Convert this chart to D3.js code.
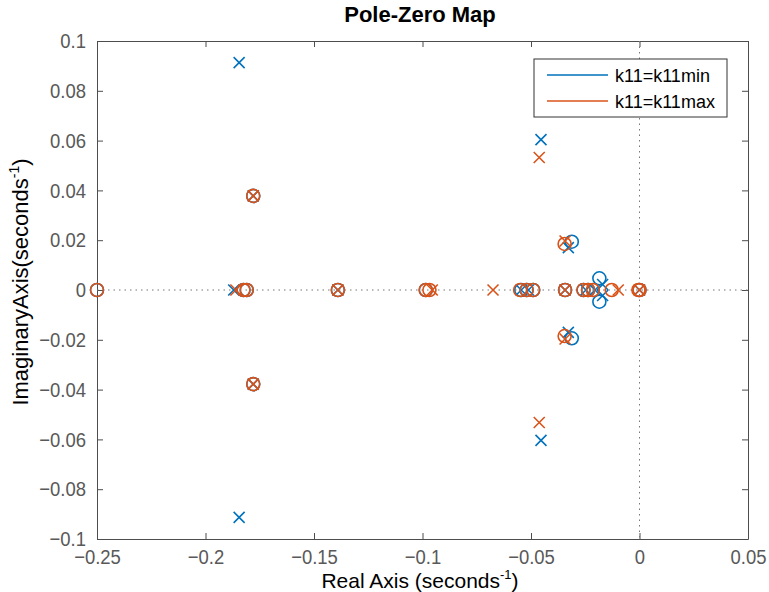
<!DOCTYPE html>
<html>
<head>
<meta charset="utf-8">
<script src="https://cdn.jsdelivr.net/npm/d3@7"></script>
<style>
  body { margin: 0; background: #fff; }
  text { font-family: "Liberation Sans", Arial, sans-serif; }
</style>
</head>
<body>
<div class="chart"></div>
<script>
var width = 769;
var height = 592;
var margin = {top: 41, right: 21, bottom: 53, left: 97};

// poles (x) and zeros (o), [real, imag]
var minPoles = [[-0.1845, 0.0913], [-0.1845, -0.0913], [-0.187, 0], [-0.178, 0.0378], [-0.178, -0.0378],
  [-0.139, 0], [-0.0545, 0], [-0.0512, 0], [-0.0454, 0.0604], [-0.0454, -0.0604],
  [-0.0328, 0.0170], [-0.0328, -0.0170], [-0.0343, 0], [-0.0247, 0], [-0.0205, 0],
  [-0.0170, 0.0022], [-0.0170, -0.0022], [0, 0]];
var minZeros = [[-0.25, 0], [-0.1825, 0], [-0.181, 0], [-0.178, 0.0378], [-0.178, -0.0378],
  [-0.139, 0], [-0.0985, 0], [-0.0545, 0], [-0.052, 0], [-0.049, 0],
  [-0.0312, 0.0194], [-0.0312, -0.0194], [-0.0343, 0], [-0.0258, 0], [-0.0237, 0],
  [-0.0185, 0.0047], [-0.0185, -0.0047], [0, 0]];
var maxPoles = [[-0.186, 0], [-0.178, 0.0378], [-0.178, -0.0378], [-0.139, 0], [-0.0955, 0],
  [-0.0675, 0], [-0.0462, 0.0532], [-0.0462, -0.0532], [-0.0343, 0.0197], [-0.0343, -0.0197],
  [-0.0343, 0], [-0.0098, 0], [0, 0]];
var maxZeros = [[-0.25, 0], [-0.1825, 0], [-0.181, 0], [-0.178, 0.0378], [-0.178, -0.0378],
  [-0.139, 0], [-0.0985, 0], [-0.0968, 0], [-0.055, 0], [-0.052, 0], [-0.049, 0],
  [-0.0345, 0.0185], [-0.0345, -0.0185], [-0.0343, 0], [-0.0258, 0], [-0.0237, 0], [-0.0215, 0],
  [-0.0128, 0], [0, 0], [-0.0005, 0]];

var xTicks = [-0.25, -0.2, -0.15, -0.1, -0.05, 0, 0.05];
var yTicks = [-0.1, -0.08, -0.06, -0.04, -0.02, 0, 0.02, 0.04, 0.06, 0.08, 0.1];
var series = [
  {name: "k11=k11min", color: "#0072BD", poles: minPoles, zeros: minZeros},
  {name: "k11=k11max", color: "#D95319", poles: maxPoles, zeros: maxZeros}
];

var svg = d3.select(".chart").append("svg")
    .attr("width", width)
    .attr("height", height);

var x = d3.scaleLinear().domain([-0.25, 0.05]).range([margin.left, width - margin.right]);
var y = d3.scaleLinear().domain([-0.1, 0.1]).range([height - margin.bottom, margin.top]);

var axisColor = "#4d4d4d";
var tickFont = 21, squeeze = 0.88;

// axes with inward ticks on all sides
function styleAxis(g) {
  g.select(".domain").attr("stroke", axisColor);
  g.selectAll(".tick line").attr("stroke", axisColor);
  g.selectAll(".tick text").attr("fill", "#595959").attr("font-size", tickFont)
    .attr("font-family", "Liberation Sans, Arial, sans-serif");
}
var fmt = function(d) { return d === 0 ? "0" : d3.format("")(+d.toFixed(2)); };

svg.append("g")
    .attr("transform", "translate(0," + (height - margin.bottom) + ")")
    .call(d3.axisBottom(x).tickValues(xTicks).tickFormat(fmt).tickSizeInner(-6).tickSizeOuter(0).tickPadding(10))
    .call(styleAxis)
    .selectAll(".tick text").attr("transform", "scale(" + squeeze + ",1)");
svg.append("g")
    .attr("transform", "translate(0," + margin.top + ")")
    .call(d3.axisTop(x).tickValues(xTicks).tickFormat("").tickSizeInner(-6).tickSizeOuter(0))
    .call(styleAxis);
svg.append("g")
    .attr("transform", "translate(" + margin.left + ",0)")
    .call(d3.axisLeft(y).tickValues(yTicks).tickFormat(fmt).tickSizeInner(-6).tickSizeOuter(0))
    .call(styleAxis)
    .selectAll(".tick text")
      .attr("x", -11 / squeeze)
      .attr("transform", "scale(" + squeeze + ",1)");
svg.append("g")
    .attr("transform", "translate(" + (width - margin.right) + ",0)")
    .call(d3.axisRight(y).tickValues(yTicks).tickFormat("").tickSizeInner(-6).tickSizeOuter(0))
    .call(styleAxis);

// dotted zero lines
svg.append("line")
    .attr("x1", x(-0.25)).attr("x2", x(0.05)).attr("y1", y(0)).attr("y2", y(0))
    .attr("stroke", "#777").attr("stroke-dasharray", "1.5,4");
svg.append("line")
    .attr("x1", x(0)).attr("x2", x(0)).attr("y1", y(0.1)).attr("y2", y(-0.1))
    .attr("stroke", "#777").attr("stroke-dasharray", "1.5,4");

// markers
var r = 6.5, s = 5.5;
series.forEach(function(sr) {
  var g = svg.append("g");
  g.selectAll("path.pole")
    .data(sr.poles)
    .enter().append("path")
      .attr("class", "pole")
      .attr("d", function(d) {
        var cx = x(d[0]), cy = y(d[1]);
        return "M" + (cx - s) + "," + (cy - s) + "L" + (cx + s) + "," + (cy + s) +
               "M" + (cx - s) + "," + (cy + s) + "L" + (cx + s) + "," + (cy - s);
      })
      .attr("stroke", sr.color).attr("stroke-width", 1.6).attr("fill", "none");
  g.selectAll("circle.zero")
    .data(sr.zeros)
    .enter().append("circle")
      .attr("class", "zero")
      .attr("cx", function(d) { return x(d[0]); })
      .attr("cy", function(d) { return y(d[1]); })
      .attr("r", r)
      .attr("stroke", sr.color).attr("stroke-width", 1.6).attr("fill", "none");
});

// legend
var legend = svg.append("g").attr("transform", "translate(534,59)");
legend.append("rect")
    .attr("width", 193).attr("height", 58)
    .attr("fill", "#fff").attr("stroke", "#333").attr("stroke-width", 1);
series.forEach(function(sr, i) {
  var ly = 16 + i * 26;
  legend.append("line")
      .attr("x1", 13).attr("x2", 74).attr("y1", ly).attr("y2", ly)
      .attr("stroke", sr.color).attr("stroke-width", 1.5);
  legend.append("text")
      .attr("x", 81).attr("y", ly + 7)
      .attr("font-size", 18).attr("fill", "#000")
      .text(sr.name);
});

// title and labels
svg.append("text")
    .attr("x", 420).attr("y", 22)
    .attr("text-anchor", "middle").attr("font-size", 22).attr("font-weight", "bold")
    .text("Pole-Zero Map");

var xl = svg.append("text")
    .attr("x", 420).attr("y", 588)
    .attr("text-anchor", "middle").attr("font-size", 21).attr("fill", "#000");
xl.append("tspan").text("Real Axis (seconds");
xl.append("tspan").attr("dy", -9).attr("font-size", 13).text("-1");
xl.append("tspan").attr("dy", 9).text(")");

var yl = svg.append("text")
    .attr("transform", "translate(28,282) rotate(-90)")
    .attr("text-anchor", "middle").attr("font-size", 22).attr("fill", "#000");
yl.append("tspan").text("ImaginaryAxis(seconds");
yl.append("tspan").attr("dy", -9).attr("font-size", 14).text("-1");
yl.append("tspan").attr("dy", 9).text(")");
</script>
</body>
</html>
